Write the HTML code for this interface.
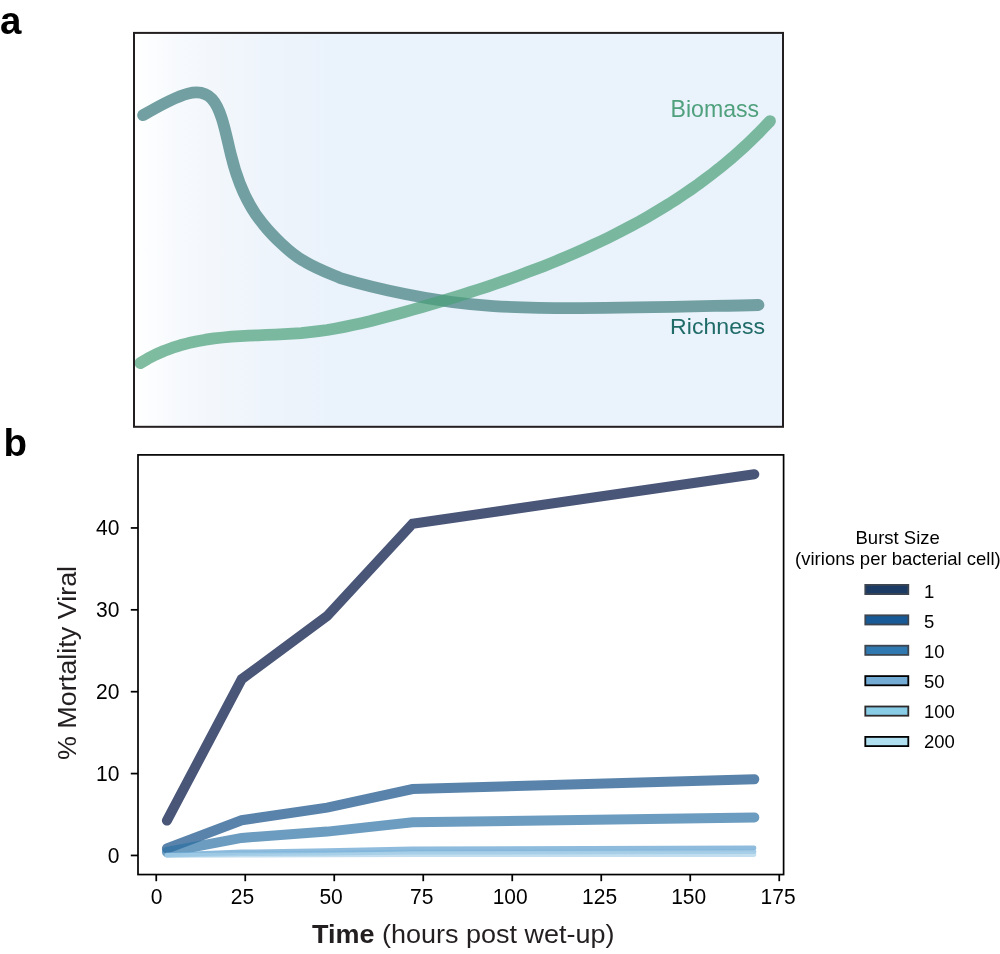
<!DOCTYPE html>
<html lang="en"><head><meta charset="utf-8"><title>Figure</title>
<style>
html,body{margin:0;padding:0;background:#fff;}
body{width:1000px;height:954px;overflow:hidden;}
svg{display:block;font-family:"Liberation Sans",Arial,Helvetica,sans-serif;}
</style></head><body>
<svg width="1000" height="954" viewBox="0 0 1000 954">
<defs>
<linearGradient id="bg" gradientUnits="userSpaceOnUse" x1="134" y1="0" x2="783" y2="0">
<stop offset="0" stop-color="#ffffff"/>
<stop offset="0.03" stop-color="#fbfdfe"/>
<stop offset="0.075" stop-color="#f6f9fd"/>
<stop offset="0.12" stop-color="#f3f7fc"/>
<stop offset="0.18" stop-color="#eff5fb"/>
<stop offset="0.245" stop-color="#ecf3fb"/>
<stop offset="0.32" stop-color="#eaf2fb"/>
<stop offset="1" stop-color="#eaf2fb"/>
</linearGradient>
</defs>
<rect width="1000" height="954" fill="#fff"/>
<!-- panel a -->
<rect x="134" y="32.9" width="649" height="393.9" fill="url(#bg)"/>
<g fill="none" stroke-linecap="round" stroke-linejoin="round" stroke-width="11.8">
<path id="rich" stroke="#72a0a2" d="M143.1,115.2 C160,105.3 178,96.2 188,93.6 C198,91 206,92.5 212,99 C222,110 226,135 231,155 C238,184 248,206 263,224 C270.5,233.5 290,254 305.2,261.8 C317.2,268.8 330.4,273.8 340.4,278.1 C360,284 385,290 405,294 C430,299.2 465,304.3 493.5,306.1 C520,307.7 550,308.2 580,308.1 C640,308 700,306.2 758.5,305"/>
<path id="bio" stroke="#48a078" stroke-opacity="0.7" d="M140.3,363.1 L147.9,358.6 L155.8,354.5 L163.8,351.0 L172.0,347.9 L180.2,345.3 L188.6,343.1 L197.1,341.2 L205.6,339.7 L214.2,338.4 L222.9,337.5 L231.5,336.7 L240.2,336.1 L248.9,335.6 L257.7,335.3 L266.4,334.9 L275.1,334.6 L283.8,334.2 L292.5,333.7 L301.2,333.1 L309.9,332.2 L318.5,331.2 L327.2,330.0 L335.8,328.5 L344.3,326.9 L352.9,325.1 L361.4,323.2 L369.9,321.2 L378.4,319.0 L386.8,316.8 L395.3,314.5 L403.7,312.2 L412.0,309.8 L420.4,307.5 L428.7,305.0 L437.1,302.5 L445.4,300.0 L453.7,297.5 L461.9,294.9 L470.2,292.2 L478.5,289.5 L486.8,286.8 L495.0,284.0 L503.3,281.1 L511.5,278.2 L519.7,275.2 L527.9,272.1 L536.1,269.0 L544.2,265.9 L552.4,262.6 L560.5,259.3 L568.5,255.9 L576.6,252.4 L584.5,248.9 L592.5,245.2 L600.4,241.5 L608.3,237.7 L616.1,233.8 L623.8,229.8 L631.5,225.7 L639.2,221.6 L646.8,217.3 L654.3,212.9 L661.8,208.4 L669.2,203.9 L676.5,199.2 L683.7,194.4 L690.9,189.5 L698.0,184.5 L705.0,179.3 L711.9,174.1 L718.8,168.7 L725.5,163.2 L732.2,157.6 L738.7,151.8 L745.2,146.0 L751.5,140.0 L757.8,133.8 L763.9,127.5 L770.0,121.1"/>
</g>
<text x="670.5" y="116.7" font-size="23.4" fill="#4fa07c" textLength="88.6" lengthAdjust="spacingAndGlyphs">Biomass</text>
<text x="670.1" y="334.1" font-size="22.3" fill="#1f6b68" textLength="95.0" lengthAdjust="spacingAndGlyphs">Richness</text>
<rect x="134" y="32.9" width="649" height="393.9" fill="none" stroke="#231f20" stroke-width="2"/>
<!-- panel b -->
<g fill="none" stroke-linecap="round" stroke-linejoin="miter" stroke-width="10">
<polyline stroke="#134f86" stroke-opacity="0.7" points="166.9,848.5 241.7,820.2 327.1,807.6 412.6,789.1 754.3,779.2"/>
<polyline stroke="#2e72a4" stroke-opacity="0.7" points="166.9,852.0 241.7,837.9 327.1,831.6 412.6,822.3 754.3,817.4"/>
<g stroke-width="4.8" stroke-linecap="round" stroke-linejoin="round" stroke-opacity="0.7">
<polyline stroke="#5f9fcf" points="166.9,854.8 241.7,852.0 327.1,850.7 412.6,848.9 754.0,847.9"/>
<polyline stroke="#7db5da" points="166.9,855.2 241.7,853.7 327.1,853.1 412.6,852.2 754.0,851.7"/>
<polyline stroke="#a8d0e8" points="166.9,855.4 241.7,855.0 327.1,854.9 412.6,854.6 754.0,854.5"/>
</g>
<polyline stroke="#4a5678" points="166.9,820.6 241.7,679.2 327.1,616.1 412.6,523.7 754.3,474.2"/>
</g>
<rect x="138" y="454.9" width="645.6" height="419.65" fill="none" stroke="#000" stroke-width="1.7"/>
<g stroke="#000" stroke-width="1.75"><line x1="156.25" y1="874.5" x2="156.25" y2="881.2" /><line x1="245.25" y1="874.5" x2="245.25" y2="881.2" /><line x1="334.25" y1="874.5" x2="334.25" y2="881.2" /><line x1="423.25" y1="874.5" x2="423.25" y2="881.2" /><line x1="512.25" y1="874.5" x2="512.25" y2="881.2" /><line x1="601.25" y1="874.5" x2="601.25" y2="881.2" /><line x1="690.25" y1="874.5" x2="690.25" y2="881.2" /><line x1="779.25" y1="874.5" x2="779.25" y2="881.2" /><line x1="130.8" y1="855.45" x2="138" y2="855.45" /><line x1="130.8" y1="773.58" x2="138" y2="773.58" /><line x1="130.8" y1="691.70" x2="138" y2="691.70" /><line x1="130.8" y1="609.83" x2="138" y2="609.83" /><line x1="130.8" y1="527.95" x2="138" y2="527.95" /></g>
<g font-size="21.5" fill="#000"><text x="156.65" y="903.6" text-anchor="middle" textLength="11.7" lengthAdjust="spacingAndGlyphs">0</text><text x="242.50" y="903.6" text-anchor="middle" textLength="23.4" lengthAdjust="spacingAndGlyphs">25</text><text x="331.10" y="903.6" text-anchor="middle" textLength="23.4" lengthAdjust="spacingAndGlyphs">50</text><text x="421.70" y="903.6" text-anchor="middle" textLength="23.4" lengthAdjust="spacingAndGlyphs">75</text><text x="510.15" y="903.6" text-anchor="middle" textLength="35.0" lengthAdjust="spacingAndGlyphs">100</text><text x="599.55" y="903.6" text-anchor="middle" textLength="35.0" lengthAdjust="spacingAndGlyphs">125</text><text x="688.70" y="903.6" text-anchor="middle" textLength="35.0" lengthAdjust="spacingAndGlyphs">150</text><text x="778.10" y="903.6" text-anchor="middle" textLength="35.0" lengthAdjust="spacingAndGlyphs">175</text><text x="119.5" y="863.40" text-anchor="end" textLength="11.7" lengthAdjust="spacingAndGlyphs">0</text><text x="119.5" y="781.40" text-anchor="end" textLength="23.4" lengthAdjust="spacingAndGlyphs">10</text><text x="119.5" y="699.40" text-anchor="end" textLength="23.4" lengthAdjust="spacingAndGlyphs">20</text><text x="119.5" y="617.40" text-anchor="end" textLength="23.4" lengthAdjust="spacingAndGlyphs">30</text><text x="119.5" y="535.40" text-anchor="end" textLength="23.4" lengthAdjust="spacingAndGlyphs">40</text></g>
<text x="312" y="943.3" font-size="26" fill="#231f20" textLength="302.4" lengthAdjust="spacingAndGlyphs"><tspan font-weight="bold">Time</tspan> (hours post wet-up)</text>
<text transform="translate(75.9,663) rotate(-90)" font-size="26.6" text-anchor="middle" fill="#231f20" textLength="194.2" lengthAdjust="spacingAndGlyphs">% Mortality Viral</text>
<!-- legend -->
<g font-size="18.5" fill="#000">
<text x="897.7" y="544.0" text-anchor="middle">Burst Size</text>
<text x="897.9" y="565.1" text-anchor="middle" textLength="205.6" lengthAdjust="spacingAndGlyphs">(virions per bacterial cell)</text>
<rect x="865.3" y="584.9" width="43" height="9.2" fill="#1b3a64" stroke="#3d4650" stroke-width="1.8"/><text x="924.0" y="598.2">1</text><rect x="865.3" y="615.3" width="43" height="9.2" fill="#185a97" stroke="#3d4650" stroke-width="1.8"/><text x="924.0" y="628.2">5</text><rect x="865.3" y="645.7" width="43" height="9.2" fill="#2f79b0" stroke="#3d4650" stroke-width="1.8"/><text x="924.0" y="658.2">10</text><rect x="865.3" y="676.1" width="43" height="9.2" fill="#73abd4" stroke="#000" stroke-width="1.8"/><text x="924.0" y="688.2">50</text><rect x="865.3" y="706.5" width="43" height="9.2" fill="#88cce6" stroke="#2e2a2b" stroke-width="1.8"/><text x="924.0" y="718.2">100</text><rect x="865.3" y="736.9" width="43" height="9.2" fill="#b0dff0" stroke="#000" stroke-width="1.8"/><text x="924.0" y="748.2">200</text>
</g>
<!-- panel labels -->
<g font-size="38.5" font-weight="bold" fill="#000">
<text x="0" y="33.8">a</text>
<text x="3.6" y="455.6">b</text>
</g>
</svg>
</body></html>
